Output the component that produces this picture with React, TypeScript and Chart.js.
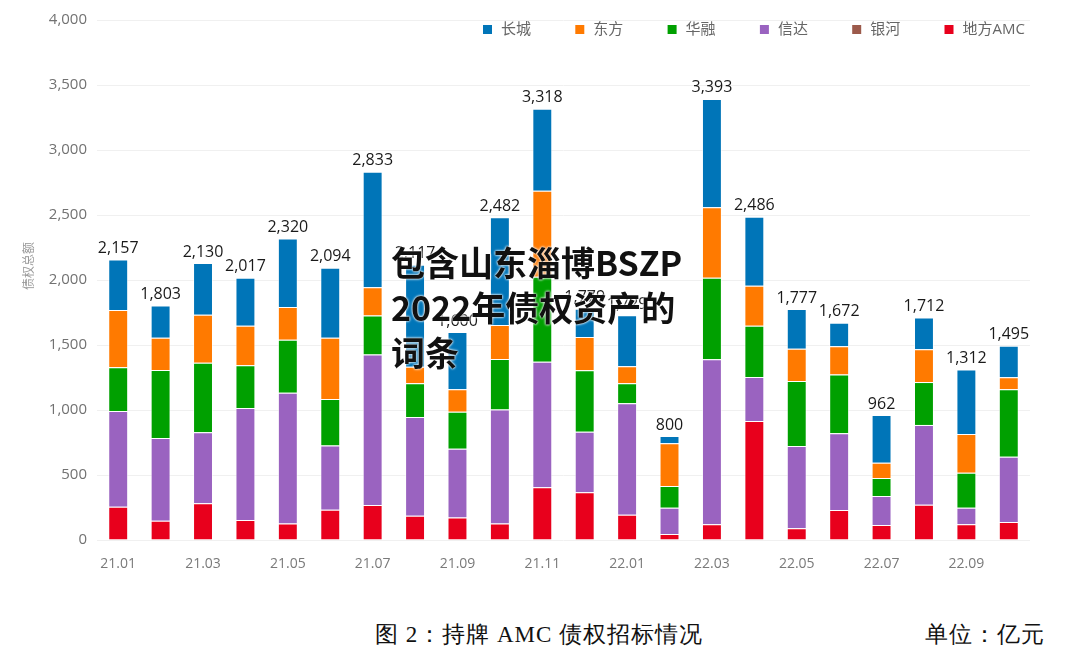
import React, { useEffect, useRef } from 'react';
import { Chart, registerables } from 'chart.js';

Chart.register(...registerables);

const months = [
  '21.01', '21.02', '21.03', '21.04', '21.05', '21.06', '21.07', '21.08', '21.09', '21.10', '21.11', '21.12',
  '22.01', '22.02', '22.03', '22.04', '22.05', '22.06', '22.07', '22.08', '22.09', '22.10',
];

// 各机构债权招标额（亿元），自下而上堆叠
const difangAMC = [256, 149, 282, 154, 126, 233, 269, 187, 174, 126, 405, 367, 195, 46, 121, 915, 90, 231, 115, 272, 121, 138];
const yinhe = [0, 0, 0, 0, 0, 0, 0, 0, 0, 0, 0, 0, 0, 0, 0, 0, 0, 0, 0, 0, 0, 0];
const xinda = [736, 636, 546, 861, 1007, 493, 1157, 759, 528, 877, 967, 466, 856, 203, 1269, 339, 633, 590, 223, 613, 128, 503];
const huarong = [336, 523, 536, 329, 408, 359, 300, 259, 285, 389, 653, 472, 154, 166, 628, 395, 500, 453, 139, 330, 269, 518];
const dongfang = [441, 248, 369, 305, 251, 471, 218, 128, 172, 262, 662, 257, 131, 329, 541, 307, 249, 216, 118, 252, 297, 93];
const changcheng = [388, 247, 397, 368, 528, 538, 889, 784, 441, 828, 631, 217, 393, 56, 834, 530, 305, 182, 367, 245, 497, 243];

const yTicks = [0, 500, 1000, 1500, 2000, 2500, 3000, 3500, 4000];

const FONT = '"Open Sans", "Noto Sans CJK SC", sans-serif';

const totalsPlugin = {
  id: 'totals',
  afterDatasetsDraw(chart: any) {
    const { ctx } = chart;
    const yScale = chart.scales.y;
    const meta0 = chart.getDatasetMeta(0);
    ctx.save();
    ctx.font = `16px ${FONT}`;
    ctx.fillStyle = '#1a1a1a';
    ctx.textAlign = 'center';
    ctx.textBaseline = 'bottom';
    meta0.data.forEach((bar: any, i: number) => {
      let sum = 0;
      chart.data.datasets.forEach((ds: any) => { sum += ds.data[i]; });
      const y = yScale.getPixelForValue(sum);
      ctx.fillText(sum.toLocaleString('en-US'), bar.x, y - 3);
    });
    ctx.restore();
  },
};

const legendPlugin = {
  id: 'customLegend',
  afterDraw(chart: any) {
    const { ctx } = chart;
    const items = [...chart.data.datasets].reverse();
    ctx.save();
    ctx.font = `15px ${FONT}`;
    ctx.textBaseline = 'middle';
    ctx.textAlign = 'left';
    items.forEach((ds: any, i: number) => {
      const x = 483 + i * 92.3;
      const y = 30;
      ctx.fillStyle = ds.backgroundColor;
      ctx.fillRect(x, y - 5, 9, 9);
      ctx.fillStyle = '#666';
      ctx.fillText(ds.label, x + 18, y);
    });
    ctx.restore();
  },
};

export default function App() {
  const ref = useRef<HTMLCanvasElement>(null);

  useEffect(() => {
    if (!ref.current) return;
    const border = 'rgba(255,255,255,0.55)';
    const chart = new Chart(ref.current, {
      type: 'bar',
      data: {
        labels: months,
        datasets: [
          { label: '地方AMC', data: difangAMC, backgroundColor: '#E8001C', borderColor: border, borderWidth: 1 },
          { label: '银河', data: yinhe, backgroundColor: '#9C5A4B', borderColor: border, borderWidth: 0 },
          { label: '信达', data: xinda, backgroundColor: '#9A63C0', borderColor: border, borderWidth: 1 },
          { label: '华融', data: huarong, backgroundColor: '#00A000', borderColor: border, borderWidth: 1 },
          { label: '东方', data: dongfang, backgroundColor: '#FF7A00', borderColor: border, borderWidth: 1 },
          { label: '长城', data: changcheng, backgroundColor: '#0075B8', borderColor: border, borderWidth: 1 },
        ],
      },
      options: {
        responsive: false,
        animation: false,
        layout: { padding: { left: 0, right: 50, top: 20, bottom: 0 } },
        datasets: { bar: { categoryPercentage: 1, barPercentage: 0.47 } } as any,
        plugins: {
          legend: { display: false },
          tooltip: { enabled: false },
        },
        scales: {
          x: {
            stacked: true,
            grid: { display: false },
            border: { display: false },
            ticks: {
              autoSkip: false,
              maxRotation: 0,
              padding: 8,
              color: '#7a7a7a',
              font: { size: 14, family: FONT },
              callback: (_v: any, i: number) => (i % 2 === 0 ? months[i] : ''),
            },
            afterFit: (s: any) => { s.height = 40; },
          },
          y: {
            stacked: true,
            min: 0,
            max: 4000,
            afterBuildTicks: (s: any) => { s.ticks = yTicks.map((v) => ({ value: v })); },
            ticks: {
              padding: 10,
              color: '#727272',
              font: { size: 15, family: FONT },
              callback: (v: any) => Number(v).toLocaleString('en-US'),
            },
            grid: { color: '#f0f0f0', drawTicks: false },
            border: { display: false },
            afterFit: (s: any) => { s.width = 97; },
          },
        },
      },
      plugins: [totalsPlugin, legendPlugin],
    });
    return () => chart.destroy();
  }, []);

  return (
    <div style={{ position: 'fixed', left: 0, top: 0, width: 1080, height: 672, background: '#fff', overflow: 'hidden' }}>
      <canvas ref={ref} width={1080} height={580} style={{ display: 'block', position: 'absolute', left: 0, top: 0 }} />
      <div
        style={{
          position: 'absolute', left: 21, top: 266, transform: 'translate(-50%, -50%) rotate(-90deg)',
          fontSize: 12, color: '#999', fontFamily: FONT, whiteSpace: 'nowrap', transformOrigin: 'center',
          marginLeft: 7,
        }}
      >
        债权总额
      </div>
      <div
        style={{
          position: 'absolute', left: 391, top: 239, fontSize: 34, lineHeight: '45px', fontWeight: 700,
          color: '#111', fontFamily: '"Noto Sans CJK SC", sans-serif', whiteSpace: 'nowrap',
          textShadow: '0 0 3px #fff, 0 0 2px #fff',
        }}
      >
        包含山东淄博BSZP<br />2022年债权资产的<br />词条
      </div>
      <div
        style={{
          position: 'absolute', left: 375, top: 620, fontSize: 23, lineHeight: '30px', color: '#111',
          fontFamily: 'serif', whiteSpace: 'nowrap', letterSpacing: 1,
        }}
      >
        图 2：持牌 AMC 债权招标情况
      </div>
      <div
        style={{
          position: 'absolute', left: 925, top: 620, fontSize: 23, lineHeight: '30px', color: '#111',
          fontFamily: 'serif', whiteSpace: 'nowrap', letterSpacing: 1,
        }}
      >
        单位：亿元
      </div>
    </div>
  );
}
